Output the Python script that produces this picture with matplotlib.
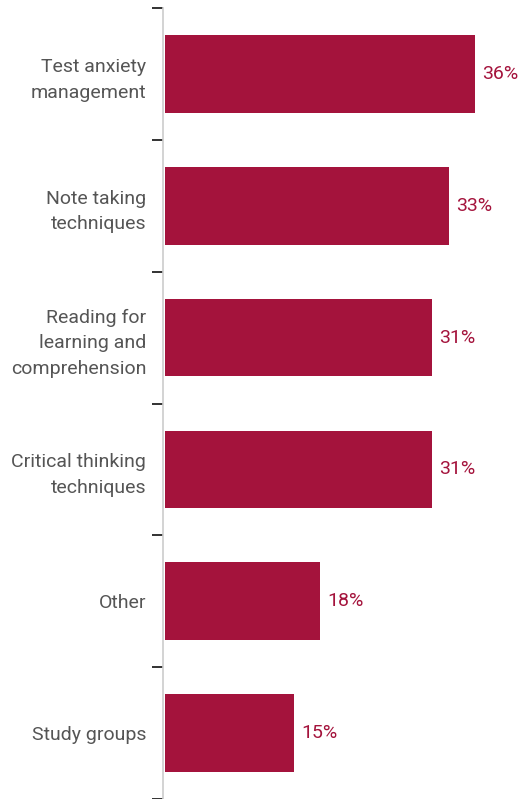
import matplotlib
matplotlib.use("Agg")
from matplotlib import pyplot as plt
import numpy as np

categories = ["Test anxiety\nmanagement", "Note taking\ntechniques",
              "Reading for\nlearning and\ncomprehension", "Critical thinking\ntechniques",
              "Other", "Study groups"]
values = [36, 33, 31, 31, 18, 15]
value_labels = ["36%", "33%", "31%", "31%", "18%", "15%"]

bar_color = "#A4133C"
text_color = "#555555"

plt.rcParams['font.family'] = ['Roboto', 'DejaVu Sans']

fig = plt.figure(figsize=(5.27, 7.99), dpi=100)
ax = fig.add_axes([163/527, 0.0, 1 - 163/527, 791/799])

y = np.arange(len(categories))
ax.barh(y, values, height=0.59, color=bar_color)
for yi, v, lab in zip(y, values, value_labels):
	ax.text(v + 0.8, yi, lab, va="center", ha="left", color=bar_color, fontsize=14)

ax.set_ylim(len(categories) - 0.5, -0.5)
ax.set_xlim(-0.2, 42.0)

# category labels sit between the tick marks
ax.set_yticks(np.arange(len(categories) + 1) - 0.5)
ax.set_yticklabels([])
ax.set_yticks(y, minor=True)
ax.set_yticklabels(categories, minor=True, color=text_color, fontsize=14, ha="right",
                   linespacing=1.55)
ax.tick_params(axis="y", which="major", length=8, width=1.3, color="#222222", direction="out")
ax.tick_params(axis="y", which="minor", length=0, pad=12)

ax.set_xticks([])
for s in ["top", "right", "bottom"]:
	ax.spines[s].set_visible(False)
ax.spines["left"].set_color("#cccccc")
ax.spines["left"].set_linewidth(1.2)

fig.savefig("out.png", dpi=100)
